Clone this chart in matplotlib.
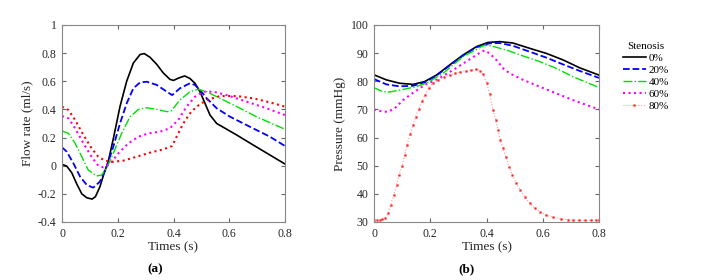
import numpy as np
import matplotlib
matplotlib.use('Agg')
import matplotlib.pyplot as plt

plt.rcParams['font.family'] = ['Liberation Serif', 'DejaVu Serif']
plt.rcParams['font.size'] = 8

labels = ['0%', '20%', '40%', '60%', '80%']
colors = ['black', 'blue', '#00e000', 'magenta', 'red']
styles = ['-', '--', '-.', ':', ':']
widths = [1.2, 1.3, 1.0, 1.5, 1.5]

# ---- flow rate (a), ml/s ----
t_q0 = [0, 0.017, 0.035, 0.053, 0.071, 0.089, 0.108, 0.12, 0.136, 0.15, 0.166, 0.185, 0.208,
        0.232, 0.256, 0.28, 0.295, 0.316, 0.34, 0.363, 0.387, 0.4, 0.417, 0.44, 0.459, 0.477,
        0.495, 0.513, 0.531, 0.555, 0.585, 0.627, 0.686, 0.746, 0.8]
q0 = [0.01, -0.003, -0.05, -0.13, -0.2, -0.228, -0.237, -0.22, -0.15, -0.06, 0.03, 0.2, 0.42,
      0.6, 0.73, 0.79, 0.797, 0.77, 0.72, 0.66, 0.614, 0.606, 0.622, 0.638, 0.62, 0.586,
      0.526, 0.443, 0.36, 0.30, 0.266, 0.218, 0.147, 0.076, 0.012]

t_q20 = [0, 0.017, 0.041, 0.065, 0.089, 0.112, 0.136, 0.16, 0.184, 0.208, 0.232, 0.256, 0.28,
         0.304, 0.34, 0.376, 0.395, 0.423, 0.459, 0.477, 0.495, 0.519, 0.555, 0.603, 0.674,
         0.746, 0.8]
q20 = [0.131, 0.1, 0.017, -0.078, -0.137, -0.156, -0.113, -0.007, 0.135, 0.30, 0.443, 0.55,
       0.592, 0.597, 0.574, 0.526, 0.502, 0.55, 0.586, 0.574, 0.538, 0.479, 0.408, 0.348,
       0.277, 0.206, 0.14]

t_q40 = [0, 0.023, 0.047, 0.071, 0.094, 0.124, 0.142, 0.16, 0.184, 0.214, 0.244, 0.274, 0.304,
         0.34, 0.376, 0.392, 0.423, 0.459, 0.489, 0.519, 0.567, 0.627, 0.698, 0.8]
q40 = [0.247, 0.23, 0.159, 0.064, -0.03, -0.073, -0.066, -0.019, 0.088, 0.23, 0.348, 0.40,
       0.412, 0.40, 0.384, 0.39, 0.467, 0.526, 0.543, 0.526, 0.479, 0.42, 0.348, 0.259]

t_q60 = [0, 0.023, 0.047, 0.077, 0.106, 0.13, 0.148, 0.172, 0.202, 0.238, 0.274, 0.31, 0.352,
         0.387, 0.417, 0.447, 0.477, 0.507, 0.543, 0.591, 0.663, 0.734, 0.8]
q60 = [0.353, 0.337, 0.266, 0.159, 0.064, 0.0, -0.011, 0.012, 0.088, 0.159, 0.206, 0.23,
       0.242, 0.266, 0.325, 0.42, 0.49, 0.526, 0.526, 0.502, 0.455, 0.408, 0.36]

t_q80 = [0, 0.023, 0.047, 0.077, 0.106, 0.13, 0.154, 0.184, 0.22, 0.268, 0.316, 0.363, 0.395,
         0.411, 0.435, 0.459, 0.483, 0.519, 0.567, 0.627, 0.686, 0.746, 0.8]
q80 = [0.42, 0.396, 0.325, 0.218, 0.124, 0.064, 0.036, 0.028, 0.036, 0.064, 0.093, 0.116,
       0.14, 0.206, 0.30, 0.372, 0.42, 0.467, 0.495, 0.495, 0.479, 0.45, 0.42]

# ---- pressure (b), mmHg ----
t_p0 = [0, 0.044, 0.091, 0.139, 0.18, 0.222, 0.269, 0.316, 0.364, 0.405, 0.447, 0.494, 0.554,
        0.613, 0.672, 0.731, 0.8]
p0 = [82.3, 80.5, 79.3, 78.9, 79.9, 82.2, 85.8, 89.3, 92.3, 93.8, 94.1, 93.6, 91.7, 89.9,
      87.6, 84.8, 82.2]

t_p20 = [0, 0.044, 0.091, 0.139, 0.18, 0.222, 0.269, 0.316, 0.364, 0.411, 0.447, 0.494, 0.554,
         0.613, 0.672, 0.731, 0.8]
p20 = [80.8, 78.9, 78.2, 78.4, 79.6, 82.0, 85.6, 89.1, 92.1, 93.5, 93.6, 92.6, 90.5, 88.4,
       86.0, 83.7, 81.2]

t_p40 = [0, 0.032, 0.056, 0.103, 0.15, 0.19, 0.245, 0.316, 0.387, 0.405, 0.423, 0.471, 0.53,
         0.589, 0.648, 0.708, 0.8]
p40 = [77.7, 76.3, 76.2, 77.1, 78.1, 79.5, 82.8, 88.7, 92.6, 92.8, 92.4, 91.1, 89.0, 87.0,
       84.6, 81.6, 77.8]

t_p60 = [0, 0.032, 0.05, 0.074, 0.103, 0.139, 0.18, 0.222, 0.281, 0.34, 0.382, 0.394, 0.411,
         0.435, 0.459, 0.483, 0.53, 0.589, 0.648, 0.708, 0.8]
p60 = [70.0, 69.2, 69.2, 70.4, 73.3, 75.9, 78.7, 80.5, 84.0, 87.8, 90.5, 91.0, 89.9, 87.6,
       84.6, 82.8, 80.5, 78.1, 75.7, 73.3, 70.0]

t_p80 = [0, 0.01, 0.02, 0.03, 0.038, 0.05, 0.059, 0.07, 0.08, 0.089, 0.1, 0.109, 0.117, 0.129,
         0.139, 0.148, 0.16, 0.172, 0.18, 0.194, 0.21, 0.228, 0.248, 0.269, 0.287, 0.307,
         0.328, 0.346, 0.364, 0.376, 0.388, 0.4, 0.411, 0.423, 0.433, 0.441, 0.449, 0.459,
         0.468, 0.48, 0.492, 0.506, 0.52, 0.536, 0.554, 0.571, 0.589, 0.613, 0.636, 0.666,
         0.69, 0.708, 0.73, 0.75, 0.77, 0.79, 0.8]
p80 = [30.7, 30.7, 30.7, 30.9, 31.3, 33.1, 36.0, 39.5, 43.1, 46.7, 50.0, 53.8, 57.5, 61.3,
       64.5, 67.2, 70.2, 73.1, 75.0, 77.5, 79.3, 80.5, 81.4, 82.2, 82.8, 83.4, 83.8, 84.0,
       84.2, 83.8, 82.5, 79.5, 75.5, 69.8, 66.2, 62.7, 59.1, 56.2, 53.2, 49.6, 46.7, 43.7,
       41.4, 39.0, 36.6, 34.9, 33.7, 32.5, 31.7, 31.1, 30.8, 30.7, 30.7, 30.6, 30.6, 30.6,
       30.6]

flow = [(t_q0, q0), (t_q20, q20), (t_q40, q40), (t_q60, q60), (t_q80, q80)]
pres = [(t_p0, p0), (t_p20, p20), (t_p40, p40), (t_p60, p60), (t_p80, p80)]

fig = plt.figure(figsize=(7.13, 2.8), dpi=100)
axa = fig.add_axes([62/713, 58/280, 223/713, 197/280])
axb = fig.add_axes([374/713, 58/280, 225/713, 197/280])

for i in range(5):
    axa.plot(flow[i][0], flow[i][1], color=colors[i], linestyle=styles[i], lw=widths[i])
    if i < 4:
        axb.plot(pres[i][0], pres[i][1], color=colors[i], linestyle=styles[i], lw=widths[i],
                 label=labels[i])
    else:
        # thin pale dotted line with small red markers
        axb.plot(pres[i][0], pres[i][1], color='#ff9a9a', linestyle=':', lw=0.8,
                 marker='s', markersize=1.2, markerfacecolor='#ff2020', markeredgecolor='#ff2020',
                 markeredgewidth=0.3, label=labels[i])

def style(ax):
    ax.set_xlim(0, 0.8)
    ax.set_xticks([0, 0.2, 0.4, 0.6, 0.8])
    ax.set_xticklabels(['0', '0.2', '0.4', '0.6', '0.8'])
    ax.tick_params(direction='in', length=3, top=True, right=True, colors='#666666',
                   labelcolor='#262626', labelsize=8.5, pad=4)
    for s in ax.spines.values():
        s.set_color('#888888')
        s.set_linewidth(0.8)
    ax.set_xlabel('Times (s)', fontsize=9.5, color='#262626', labelpad=1)

style(axa)
axa.set_ylim(-0.4, 1)
axa.set_yticks([-0.4, -0.2, 0, 0.2, 0.4, 0.6, 0.8, 1])
axa.set_yticklabels(['-0.4', '-0.2', '0', '0.2', '0.4', '0.6', '0.8', '1'])
axa.set_ylabel('Flow rate (ml/s)', fontsize=9.5, color='#262626', labelpad=3)

style(axb)
axb.set_ylim(30, 100)
axb.set_yticks(np.arange(30, 101, 10))
axb.set_ylabel('Pressure (mmHg)', fontsize=9.5, color='#262626', labelpad=3)

leg = fig.legend(loc='upper left', bbox_to_anchor=(617/713, 1 - 36/280), frameon=False,
                 title='Stenosis', fontsize=8, title_fontsize=8, handlelength=2.1,
                 handletextpad=0.25, labelspacing=0.2, borderpad=0)

fig.text(155/713, 1 - 269/280, '(a)', ha='center', va='center', fontsize=9.5, fontweight='bold')
fig.text(467/713, 1 - 269/280, '(b)', ha='center', va='center', fontsize=9.5, fontweight='bold')

fig.savefig('out.png', dpi=100)
